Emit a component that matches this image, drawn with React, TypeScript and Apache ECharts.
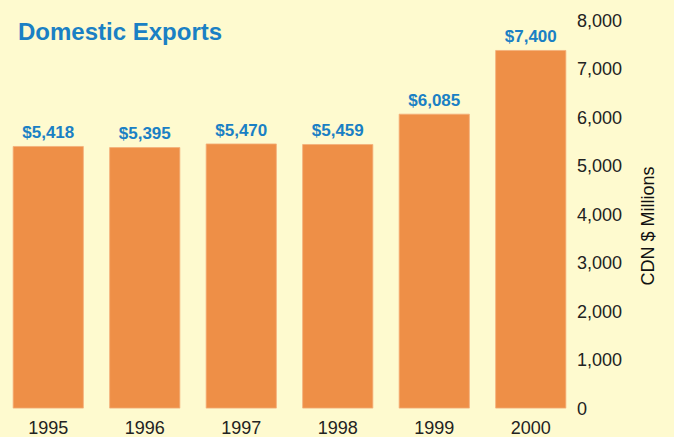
import React, { useEffect, useRef } from "react";
import * as echarts from "echarts";

const years = ["1995", "1996", "1997", "1998", "1999", "2000"];
const exportsValues = [5418, 5395, 5470, 5459, 6085, 7400];
const yTicks = { min: 0, max: 8000, interval: 1000 };

const fmt = (v: number) => v.toLocaleString("en-US");

export default function App() {
  const ref = useRef<HTMLDivElement>(null);
  useEffect(() => {
    document.body.style.margin = "0";
    const chart = echarts.init(ref.current!, null, { renderer: "svg" });
    const fam = "'Liberation Sans', Arial, sans-serif";
    chart.setOption({
      animation: false,
      backgroundColor: "#FEFACF",
      grid: {
        left: 0,
        width: 579,
        top: 21,
        bottom: 28.5,
        containLabel: false,
        outerBoundsMode: "none",
      },
      xAxis: {
        type: "category",
        data: years,
        axisLine: { show: false },
        axisTick: { show: false },
        axisLabel: { color: "#222", fontFamily: fam, fontSize: 18, margin: 10 },
      },
      yAxis: {
        type: "value",
        position: "right",
        min: yTicks.min,
        max: yTicks.max,
        interval: yTicks.interval,
        splitLine: { show: false },
        axisLine: { show: false },
        axisTick: { show: false },
        axisLabel: {
          color: "#222",
          fontFamily: fam,
          fontSize: 18,
          margin: -2,
          formatter: (v: number) => fmt(v),
        },
      },
      series: [
        {
          type: "bar",
          data: exportsValues,
          barWidth: 71,
          itemStyle: { color: "#EE8F47", borderColor: "#F4AE7A", borderWidth: 0.8 },
          label: {
            show: true,
            position: "top",
            distance: 5,
            color: "#1A80C4",
            fontFamily: fam,
            fontWeight: "bold",
            fontSize: 17,
            formatter: (p: any) => "$" + fmt(p.value),
          },
        },
      ],
      graphic: [
        {
          type: "text",
          left: 18,
          top: 19,
          style: {
            text: "Domestic Exports",
            fill: "#1A80C4",
            font: "bold 24px 'Liberation Sans', Arial, sans-serif",
          },
        },
        {
          type: "text",
          x: 648,
          y: 226,
          rotation: Math.PI / 2,
          style: {
            text: "CDN $ Millions",
            fill: "#111",
            font: "18px " + fam,
            align: "center",
            verticalAlign: "middle",
          },
        },
      ],
    });
    return () => chart.dispose();
  }, []);
  return (
    <div
      ref={ref}
      style={{ position: "absolute", left: 0, top: 0, width: 674, height: 437 }}
    />
  );
}
